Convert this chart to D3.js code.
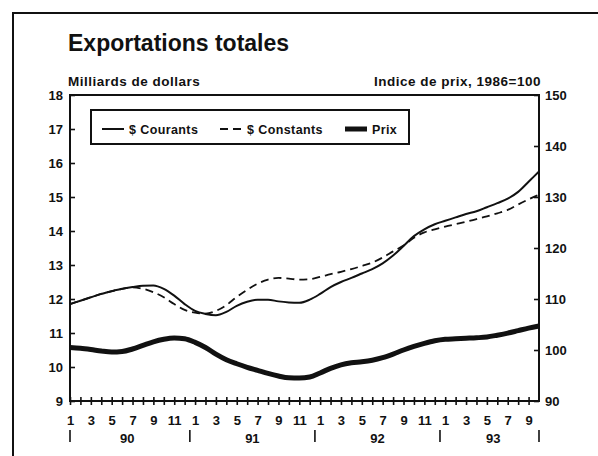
<!DOCTYPE html>
<html>
<head>
<meta charset="utf-8">
<script src="https://cdn.jsdelivr.net/npm/d3@7"></script>
<style>
  body { margin: 0; background: #fff; }
  svg text { font-family: "Liberation Sans", Arial, sans-serif; font-weight: bold; fill: #111; }
</style>
</head>
<body>
<div id="chart"></div>
<script>
// Monthly values, Jan 1990 (index 0) to Oct 1993 (index 45)
var courants = [
  11.85, 11.95, 12.05, 12.15, 12.23, 12.3, 12.35, 12.39, 12.4, 12.3, 12.1, 11.85,
  11.65, 11.56, 11.52, 11.62, 11.8, 11.92, 11.98, 11.98, 11.93, 11.9, 11.89, 11.98,
  12.15, 12.35, 12.5, 12.62, 12.75, 12.88, 13.05, 13.28, 13.56, 13.85, 14.05, 14.2,
  14.3, 14.4, 14.5, 14.58, 14.7, 14.82, 14.95, 15.15, 15.45, 15.75
];
var constants = [
  11.85, 11.95, 12.05, 12.15, 12.23, 12.3, 12.34, 12.3, 12.2, 12.05, 11.85, 11.68,
  11.6, 11.57, 11.65, 11.82, 12.06, 12.27, 12.45, 12.57, 12.62, 12.6, 12.57, 12.58,
  12.65, 12.73, 12.8, 12.88, 12.97, 13.07, 13.22, 13.4, 13.57, 13.8, 13.96, 14.05,
  14.13, 14.2, 14.27, 14.35, 14.43, 14.52, 14.62, 14.78, 14.93, 15.07
];
var prix = [
  100.5, 100.35, 100.1, 99.8, 99.6, 99.7, 100.2, 100.9, 101.6, 102.1, 102.35, 102.2,
  101.5, 100.5, 99.2, 98.1, 97.3, 96.6, 96.0, 95.4, 94.9, 94.55, 94.5, 94.7,
  95.5, 96.4, 97.1, 97.5, 97.7, 98.0, 98.5, 99.2, 100.0, 100.7, 101.3, 101.8,
  102.1, 102.2, 102.3, 102.4, 102.55, 102.9, 103.3, 103.8, 104.3, 104.7
];

var leftTicks = [9, 10, 11, 12, 13, 14, 15, 16, 17, 18];
var rightTicks = [90, 100, 110, 120, 130, 140, 150];
var monthTickPos = d3.range(0, 45);
var monthLabelPos = [0, 2, 4, 6, 8, 10, 12, 14, 16, 18, 20, 22, 24, 26, 28, 30, 32, 34, 36, 38, 40, 42, 44];
var monthLabels = ["1", "3", "5", "7", "9", "11", "1", "3", "5", "7", "9", "11",
  "1", "3", "5", "7", "9", "11", "1", "3", "5", "7", "9"];
var years = ["90", "91", "92", "93"];
var yearCenters = [5.5, 17.5, 29.5, 40.6];
var yearSeps = [0, 11.5, 23.5, 35.5, 45];

var legendItems = [
  { label: "$ Courants", width: 2, dash: null },
  { label: "$ Constants", width: 1.8, dash: "8,5" },
  { label: "Prix", width: 5, dash: null }
];

var W = 598, H = 456;
// plot box (note: "top" is reserved on window, so prefixed names)
var pLeft = 70, pRight = 539, pTop = 95, pBottom = 401;

var svg = d3
  .select("#chart")
  .append("svg")
  .attr("width", W)
  .attr("height", H);

// outer frame (only left and top edges show in the scan)
svg.append("path")
  .attr("d", "M13," + H + "V13H" + W)
  .attr("fill", "none")
  .attr("stroke", "#111")
  .attr("stroke-width", 2);

var x = d3.scaleLinear().domain([0, 45]).range([pLeft, pRight]);
var yL = d3.scaleLinear().domain([9, 18]).range([pBottom, pTop]);
var yR = d3.scaleLinear().domain([90, 150]).range([pBottom, pTop]);

// titles
svg.append("text")
  .attr("x", 68)
  .attr("y", 51)
  .attr("font-size", 23)
  .text("Exportations totales");

svg.append("text")
  .attr("x", 68)
  .attr("y", 86)
  .attr("font-size", 13.5)
  .attr("letter-spacing", 0.5)
  .text("Milliards de dollars");

svg.append("text")
  .attr("x", 541)
  .attr("y", 86)
  .attr("text-anchor", "end")
  .attr("font-size", 13.5)
  .attr("letter-spacing", 0.5)
  .text("Indice de prix, 1986=100");

// left axis
var gL = svg.append("g")
  .attr("transform", "translate(" + pLeft + ",0)")
  .call(d3.axisLeft(yL).tickValues(leftTicks).tickSizeInner(-5).tickSizeOuter(0).tickPadding(7));

// right axis
var gR = svg.append("g")
  .attr("transform", "translate(" + pRight + ",0)")
  .call(d3.axisRight(yR).tickValues(rightTicks).tickSizeInner(-5).tickSizeOuter(0).tickPadding(6));

// bottom ticks crossing the axis
var gB = svg.append("g")
  .attr("transform", "translate(0," + pBottom + ")")
  .call(d3.axisBottom(x).tickValues(monthTickPos).tickSizeInner(4).tickSizeOuter(0).tickFormat(""));
gB.selectAll(".tick line").attr("y1", -4);

// month labels
var gM = svg.append("g")
  .attr("transform", "translate(0," + pBottom + ")")
  .call(d3.axisBottom(x).tickValues(monthLabelPos).tickSize(0).tickPadding(15)
    .tickFormat(function (d, i) { return monthLabels[i]; }));

[gL, gR, gB, gM].forEach(function (g) {
  g.attr("font-family", null).attr("font-size", null);
  g.select(".domain").remove();
  g.selectAll(".tick line").attr("stroke", "#111").attr("stroke-width", 1.6);
  g.selectAll("text").attr("font-size", 13).attr("fill", "#111");
});

// years and separators
svg.selectAll(".year")
  .data(years)
  .enter()
  .append("text")
  .attr("class", "year")
  .attr("x", function (d, i) { return x(yearCenters[i]); })
  .attr("y", 443)
  .attr("text-anchor", "middle")
  .attr("font-size", 13)
  .text(function (d) { return d; });

svg.selectAll(".sep")
  .data(yearSeps)
  .enter()
  .append("line")
  .attr("x1", function (d) { return x(d); })
  .attr("x2", function (d) { return x(d); })
  .attr("y1", 430)
  .attr("y2", 442)
  .attr("stroke", "#111")
  .attr("stroke-width", 1.6);

// plot frame
svg.append("rect")
  .attr("x", pLeft)
  .attr("y", pTop)
  .attr("width", pRight - pLeft)
  .attr("height", pBottom - pTop)
  .attr("fill", "none")
  .attr("stroke", "#111")
  .attr("stroke-width", 2);

// lines
var lineL = d3.line()
  .x(function (d, i) { return x(i); })
  .y(function (d) { return yL(d); })
  .curve(d3.curveMonotoneX);
var lineR = d3.line()
  .x(function (d, i) { return x(i); })
  .y(function (d) { return yR(d); })
  .curve(d3.curveMonotoneX);

svg.append("path")
  .datum(prix)
  .attr("fill", "none")
  .attr("stroke", "#111")
  .attr("stroke-width", 5)
  .attr("d", lineR);

svg.append("path")
  .datum(constants)
  .attr("fill", "none")
  .attr("stroke", "#111")
  .attr("stroke-width", 1.8)
  .attr("stroke-dasharray", "8,5")
  .attr("d", lineL);

svg.append("path")
  .datum(courants)
  .attr("fill", "none")
  .attr("stroke", "#111")
  .attr("stroke-width", 2)
  .attr("d", lineL);

// legend
var legend = svg.append("g");
legend.append("rect")
  .attr("x", 91)
  .attr("y", 110)
  .attr("width", 318)
  .attr("height", 34)
  .attr("fill", "#fff")
  .attr("stroke", "#111")
  .attr("stroke-width", 2);

var legendX = [102, 220, 345];
legendItems.forEach(function (item, i) {
  legend.append("line")
    .attr("x1", legendX[i])
    .attr("x2", legendX[i] + 22)
    .attr("y1", 129)
    .attr("y2", 129)
    .attr("stroke", "#111")
    .attr("stroke-width", item.width)
    .attr("stroke-dasharray", item.dash);
  legend.append("text")
    .attr("x", legendX[i] + 27)
    .attr("y", 134)
    .attr("font-size", 12.5)
    .attr("letter-spacing", 0.4)
    .text(item.label);
});
</script>
</body>
</html>
